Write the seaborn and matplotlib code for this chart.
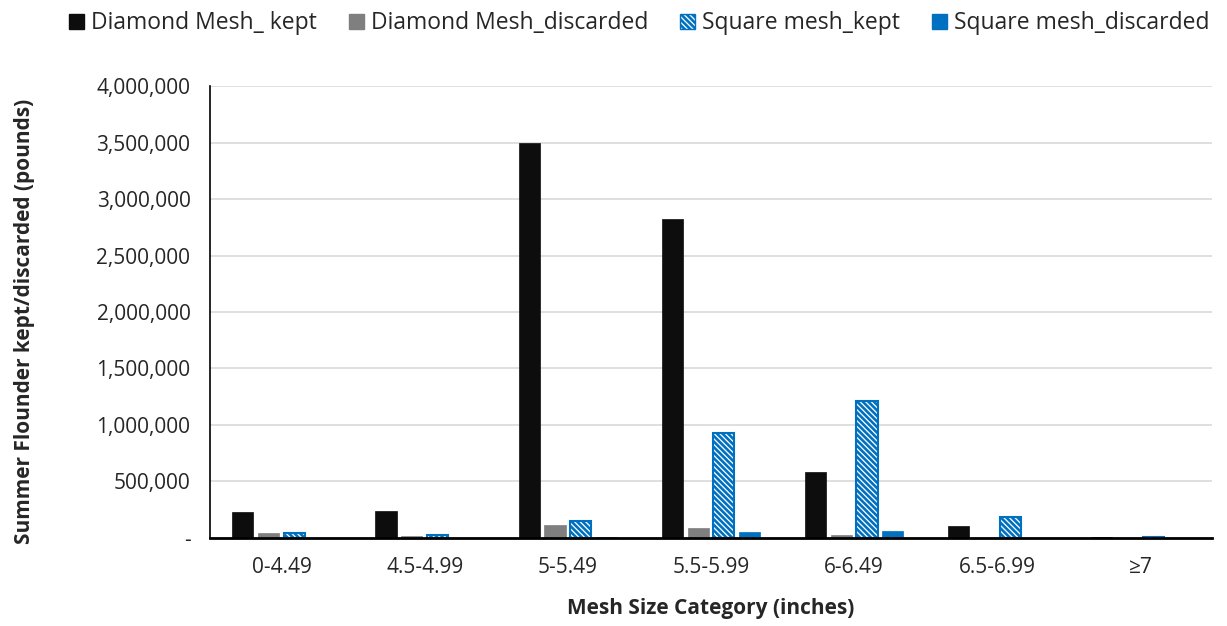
import pandas as pd
import numpy as np
import matplotlib.pyplot as plt
import matplotlib.ticker as mticker
from matplotlib.patches import Patch
import seaborn as sns

plt.switch_backend('Agg')

# Data (pounds)
categories = ['0-4.49', '4.5-4.99', '5-5.49', '5.5-5.99', '6-6.49', '6.5-6.99', '≥7']
series_names = ['Diamond Mesh_ kept', 'Diamond Mesh_discarded',
                'Square mesh_kept', 'Square mesh_discarded']
diamond_kept = [230000, 236000, 3500000, 2823000, 581000, 109000, 6000]
diamond_discarded = [42000, 15000, 115000, 88000, 24000, 2000, 1000]
square_kept = [40000, 25000, 153000, 929000, 1212000, 183000, 5000]
square_discarded = [3000, 2000, 10000, 50000, 62000, 2000, 1000]
y_ticks = [0, 500000, 1000000, 1500000, 2000000, 2500000, 3000000, 3500000, 4000000]

colors = ['#0D0D0D', '#7F7F7F', '#FFFFFF', '#0070C0']
hatch_blue = '#0070C0'
hatch = '\\\\\\\\\\\\'

df = pd.DataFrame({
    'category': categories * 4,
    'series': np.repeat(series_names, len(categories)),
    'value': diamond_kept + diamond_discarded + square_kept + square_discarded,
})

sns.set_style('white')
plt.rcParams['font.family'] = ['Open Sans', 'DejaVu Sans']
plt.rcParams['hatch.linewidth'] = 1.9

fig = plt.figure(figsize=(12.27, 6.26), dpi=100)
ax = fig.add_axes([0.1711, 0.1406, 0.8167, 0.7220])

sns.barplot(data=df, x='category', y='value', hue='series', order=categories,
            hue_order=series_names, palette=colors, width=0.72, gap=0.18,
            errorbar=None, legend=False, ax=ax, saturation=1)

# Style containers: hatched square mesh kept
for i, cont in enumerate(ax.containers):
    for bar in cont:
        if i == 2:
            bar.set_facecolor('white')
            bar.set_edgecolor(hatch_blue)
            bar.set_hatch(hatch)
            bar.set_linewidth(1.5)
        else:
            bar.set_edgecolor(colors[i])
            bar.set_linewidth(0.5)

ax.set_ylim(0, 4000000)
ax.set_xlim(-0.5, len(categories) - 0.5)
ax.set_yticks(y_ticks)
ax.yaxis.set_major_formatter(mticker.FuncFormatter(
    lambda v, p: '-' if v == 0 else f'{int(v):,}'))
ax.yaxis.grid(True, color='#D9D9D9', linewidth=1.2)
ax.set_axisbelow(True)

# category boundary ticks on x axis
ax.set_xticks(np.arange(len(categories)))
ax.set_xticklabels(categories)
ax.tick_params(axis='x', which='major', length=0, pad=14, labelsize=15)
ax.set_xticks(np.arange(len(categories) + 1) - 0.5, minor=True)
ax.tick_params(axis='x', which='minor', length=7, width=1.5, color='black', direction='out')
ax.tick_params(axis='y', length=6, width=1.2, color='black', direction='out', labelsize=15, pad=8)

for s in ['top', 'right']:
    ax.spines[s].set_visible(False)
ax.spines['left'].set_color('black')
ax.spines['left'].set_linewidth(1.2)
ax.spines['bottom'].set_color('black')
ax.spines['bottom'].set_linewidth(2.0)

ax.set_xlabel('Mesh Size Category (inches)', fontsize=15, fontweight='bold', labelpad=14)
ax.set_ylabel('Summer Flounder kept/discarded (pounds)', fontsize=15, fontweight='bold')
ax.yaxis.set_label_coords(-0.175, 0.48)

handles = [
    Patch(facecolor=colors[0], edgecolor=colors[0]),
    Patch(facecolor=colors[1], edgecolor=colors[1]),
    Patch(facecolor='white', edgecolor=hatch_blue, hatch=hatch),
    Patch(facecolor=colors[3], edgecolor=colors[3]),
]
fig.legend(handles, series_names, loc='upper center', bbox_to_anchor=(0.521, 1.015),
           ncol=4, frameon=False, fontsize=16.5, handlelength=0.65, handleheight=0.65,
           handletextpad=0.3, columnspacing=1.4)

fig.savefig('out.png', dpi=100)
plt.close(fig)
